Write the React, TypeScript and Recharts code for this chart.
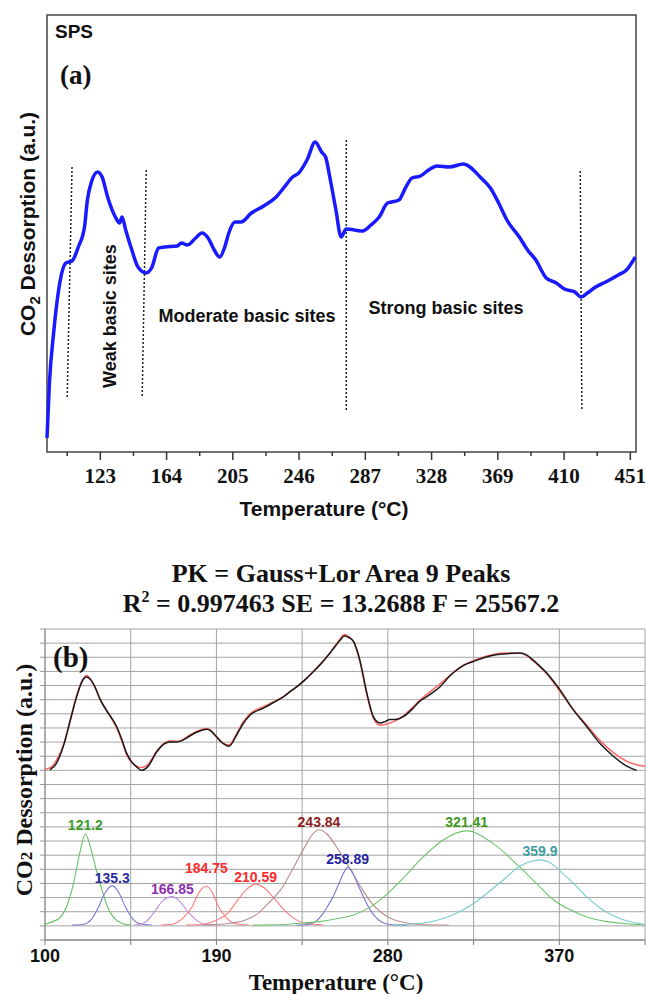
import React from 'react';
import { LineChart, Line, XAxis, YAxis, CartesianGrid, ReferenceLine, ReferenceArea } from 'recharts';

const SANS = "'Liberation Sans', Arial, sans-serif";
const SERIF = "'Liberation Serif', 'Times New Roman', serif";

type Pt = [number, number];

// ---- (a) raw CO2-TPD trace of SPS: [temperature °C, signal a.u.]
const spsTrace: Pt[] = [
  [90.0, 14], [91.5, 69], [94.1, 119], [97.9, 169], [101.7, 189], [105.5, 191], [109.4, 205],
  [113.2, 225], [115.0, 252], [117.5, 270], [121.3, 280], [124.1, 275], [127.7, 254], [132.3, 235],
  [134.9, 229], [136.4, 235], [138.7, 222], [142.5, 202], [146.3, 185], [151.4, 179], [154.7, 184],
  [159.1, 204], [162.9, 205], [170.6, 206], [173.1, 209], [177.0, 207], [182.0, 214], [185.9, 219],
  [189.7, 214], [193.5, 202], [196.9, 195], [200.0, 205], [202.5, 219], [206.3, 230], [210.1, 230],
  [216.5, 239], [224.1, 246], [231.8, 255], [236.9, 265], [242.0, 275], [245.8, 279], [250.9, 292],
  [256.0, 310], [259.9, 300], [262.4, 295], [265.0, 275], [268.8, 242], [272.0, 215], [275.2, 223],
  [280.3, 222], [285.4, 221], [290.5, 227], [295.6, 235], [300.7, 249], [303.2, 250], [307.8, 252],
  [312.1, 265], [315.9, 274], [321.1, 276], [326.2, 282], [331.3, 286], [338.9, 285], [347.8, 288],
  [351.7, 285], [358.0, 275], [364.4, 264], [369.5, 249], [374.6, 232], [382.3, 215], [387.4, 202],
  [392.5, 192], [398.9, 174], [405.2, 169], [410.3, 163], [416.7, 160], [420.5, 155], [424.4, 159],
  [429.5, 165], [435.8, 170], [443.5, 177], [448.6, 182], [454.0, 195],
];

const spsTicks = [123, 164, 205, 246, 287, 328, 369, 410, 451];
const spsMinorTicks = [102.5, 143.5, 184.5, 225.5, 266.5, 307.5, 348.5, 389.5, 430.5];

// region boundaries (dotted): top and bottom end of each line, [t, signal]
const siteBounds: [Pt, Pt][] = [
  [[105.5, 285], [102.5, 55]],
  [[151.4, 282], [148.9, 54]],
  [[275.2, 312], [275.2, 40]],
  [[420.0, 281], [421.0, 43]],
];

// ---- (b) deconvolution: measured trace, fitted envelope and the nine component peaks
const measured: Pt[] = [
  [102.6, 12.04], [106, 12.5], [109.6, 13.7], [113, 15.4], [116.6, 17.2], [119.5, 18.3], [121.9, 18.6],
  [124, 18.4], [126.2, 17.9], [129, 17.0], [132.4, 16.2], [135, 15.7], [137.6, 15.1], [140, 14.3],
  [142.9, 13.2], [145.5, 12.6], [148.1, 12.25], [150.7, 12.0], [154.2, 12.3], [158.6, 13.3], [163, 13.9],
  [166, 14.0], [169.1, 14.0], [172, 14.1], [174.4, 14.3], [180.5, 14.75], [184.9, 14.9], [187, 14.8],
  [189.2, 14.5], [193.6, 13.9], [196.6, 13.7], [200.6, 14.5], [204, 15.3], [207.6, 15.9], [214.6, 16.4],
  [220, 16.8], [225.1, 17.2], [229, 17.6], [233.9, 18.1], [238, 18.6], [242.6, 19.2], [246, 19.7],
  [249.6, 20.3], [252.5, 20.8], [254.9, 21.2], [257.2, 21.5], [259.5, 21.4], [262, 21.1], [265.3, 19.8],
  [268.9, 17.5], [272.4, 15.8], [275.9, 15.35], [278.5, 15.45], [281.1, 15.6], [284, 15.6], [288.1, 15.8],
  [293.3, 16.4], [296.8, 16.9], [300.3, 17.2], [304, 17.55], [307.3, 17.9], [312, 18.6], [316.1, 19.1],
  [320, 19.45], [324.8, 19.7], [330, 19.95], [335.3, 20.15], [342, 20.25], [349.3, 20.3], [353, 20.15],
  [356.3, 19.8], [363.3, 18.9], [370.3, 17.7], [377.3, 16.3], [384.4, 15.1], [391.4, 13.9], [398.4, 13.0],
  [405.4, 12.3], [410.6, 12.0],
];

const fitted: Pt[] = [
  [100, 12.08], [103, 12.2], [106, 12.7], [110, 13.9], [113, 15.4], [116.6, 17.3], [119.5, 18.35],
  [121.9, 18.7], [124, 18.45], [126.2, 17.9], [129, 17.0], [132.4, 16.25], [135, 15.65], [137.6, 15.0],
  [140, 14.2], [142.9, 13.1], [145.5, 12.55], [148.1, 12.3], [150.7, 12.2], [154.2, 12.45], [158.6, 13.35],
  [163, 13.95], [166, 14.1], [169.1, 14.05], [172, 14.15], [174.4, 14.35], [180.5, 14.8], [184.9, 14.95],
  [187, 14.85], [189.2, 14.5], [193.6, 13.9], [196.6, 13.8], [200.6, 14.6], [204, 15.4], [207.6, 16.0],
  [214.6, 16.5], [220, 16.85], [225.1, 17.2], [229, 17.6], [233.9, 18.1], [238, 18.6], [242.6, 19.25],
  [246, 19.75], [249.6, 20.3], [252.5, 20.85], [254.9, 21.3], [257.2, 21.6], [259.5, 21.45], [262, 21.1],
  [265.3, 19.7], [268.9, 17.4], [272.4, 15.7], [275.9, 15.2], [278.5, 15.25], [281.1, 15.35], [284, 15.5],
  [288.1, 15.85], [293.3, 16.5], [296.8, 16.95], [300.3, 17.35], [304, 17.75], [307.3, 18.1], [312, 18.65],
  [316.1, 19.1], [320, 19.45], [324.8, 19.75], [330, 20.0], [335.3, 20.2], [342, 20.3], [349.3, 20.3],
  [353, 20.1], [356.3, 19.75], [363.3, 18.85], [370.3, 17.6], [377.3, 16.3], [384.4, 15.2], [391.4, 14.1],
  [398.4, 13.25], [405.4, 12.65], [410.6, 12.4], [415, 12.3],
];

const peak121: Pt[] = [[100, 1.12], [104, 1.3], [108, 1.6], [112, 2.6], [115, 4.0], [118, 6.0], [121.2, 7.5], [124, 6.5], [127, 4.9], [130, 3.5], [133, 2.3], [136, 1.6], [140, 1.2], [145, 1.06]];
const peak135: Pt[] = [[114, 1.06], [120, 1.1], [124, 1.4], [128, 2.3], [131, 3.2], [135.3, 3.85], [139, 3.3], [142, 2.4], [146, 1.5], [150, 1.15], [156, 1.06]];
const peak166: Pt[] = [[147, 1.06], [152, 1.2], [157, 1.9], [162, 2.8], [166.85, 3.07], [171, 2.7], [175, 2.0], [180, 1.35], [184, 1.1], [189, 1.06]];
const peak184: Pt[] = [[161, 1.06], [166, 1.1], [172, 1.5], [177, 2.3], [181, 3.4], [184.75, 3.82], [188, 3.3], [191, 2.4], [195, 1.6], [200, 1.15], [207, 1.06]];
const peak210: Pt[] = [[174, 1.06], [182, 1.1], [190, 1.4], [196, 1.9], [201, 2.8], [206, 3.6], [210.59, 3.95], [215, 3.7], [220, 3.0], [225, 2.2], [230, 1.6], [236, 1.2], [246, 1.06]];
const peak243: Pt[] = [[183, 1.06], [195, 1.15], [205, 1.4], [212, 1.9], [218, 2.7], [224, 3.6], [230, 5.0], [236, 6.5], [240, 7.4], [243.84, 7.8], [248, 7.5], [253, 6.6], [258, 5.5], [262, 4.6], [266, 3.7], [271, 2.7], [276, 2.0], [282, 1.5], [290, 1.2], [300, 1.08], [312, 1.06]];
const peak258: Pt[] = [[232, 1.06], [238, 1.1], [242, 1.3], [245, 1.7], [248, 2.3], [251, 3.0], [254, 3.9], [257, 4.8], [258.89, 5.15], [261, 4.9], [264, 4.0], [267, 3.1], [270, 2.3], [273, 1.7], [277, 1.25], [282, 1.08], [290, 1.06]];
const peak321: Pt[] = [[209, 1.06], [225, 1.1], [235, 1.2], [244, 1.3], [253, 1.5], [262, 1.77], [271, 2.36], [280, 3.3], [288, 4.37], [297, 5.67], [309, 7.08], [321.41, 7.72], [335, 6.85], [349, 5.19], [358, 4.0], [367, 2.83], [376, 2.12], [384, 1.65], [395, 1.3], [405, 1.15], [415, 1.08]];
const peak359: Pt[] = [[283, 1.06], [297, 1.18], [306, 1.4], [314, 1.77], [323, 2.4], [332, 3.3], [341, 4.3], [349, 5.2], [355, 5.55], [359.9, 5.67], [366, 5.4], [371, 4.8], [376, 4.2], [384, 3.1], [393, 2.12], [402, 1.5], [415, 1.1]];

const fitTicks = [100, 145, 190, 235, 280, 325, 370, 415];
const fitTickLabels = [100, 190, 280, 370];
const fitYTicks = Array.from({ length: 23 }, (_, i) => i);

// line colour / label colour per component, plus how far the label sits above the apex
const peaks = [
  { pts: peak121, stroke: '#66c266', ink: '#3c9a2c', lift: 4 },
  { pts: peak135, stroke: '#7b7bd8', ink: '#2b2b9e', lift: 3 },
  { pts: peak166, stroke: '#c38ee0', ink: '#8e2fb0', lift: 3 },
  { pts: peak184, stroke: '#ff7b7b', ink: '#ff2a2a', lift: 13 },
  { pts: peak210, stroke: '#ff7b7b', ink: '#ff2a2a', lift: 2 },
  { pts: peak243, stroke: '#b98c8c', ink: '#8e1f1f', lift: 3 },
  { pts: peak258, stroke: '#7575d6', ink: '#1f1fa0', lift: 3 },
  { pts: peak321, stroke: '#6cc46c', ink: '#3c9a1c', lift: 4 },
  { pts: peak359, stroke: '#78cccc', ink: '#3f9e9e', lift: 4 },
];

const rows = (pts: Pt[]) => pts.map(([t, v]) => ({ t, v }));

const apexIndex = (pts: Pt[]) => pts.reduce((best, p, i) => (p[1] > pts[best][1] ? i : best), 0);

function SpsTick(props: any) {
  const { x, y, payload } = props;
  const major = spsTicks.includes(payload.value);
  return (
    <g>
      <line x1={x} x2={x} y1={y} y2={y + (major ? 8 : 4)} stroke="#333" strokeWidth={1.5} />
      {major && (
        <text x={x} y={y + 31} textAnchor="middle" fontFamily={SERIF} fontWeight="bold" fontSize={21} fill="#111">
          {payload.value}
        </text>
      )}
    </g>
  );
}

function FitTick(props: any) {
  const { x, y, payload } = props;
  return (
    <g>
      <line x1={x} x2={x} y1={y} y2={y + 5} stroke="#777" />
      {fitTickLabels.includes(payload.value) && (
        <text x={x} y={y + 22} textAnchor="middle" fontFamily={SANS} fontWeight="bold" fontSize={18} fill="#111">
          {payload.value}
        </text>
      )}
    </g>
  );
}

function SpsPanel() {
  return (
    <LineChart width={646} height={520} margin={{ top: 15, right: 10, left: 47, bottom: 0 }}>
      <XAxis
        type="number"
        dataKey="t"
        domain={[90, 454.5]}
        ticks={[...spsMinorTicks, ...spsTicks].sort((a, b) => a - b)}
        interval={0}
        height={68}
        axisLine={false}
        tickLine={false}
        tickSize={0}
        tickMargin={0}
        tick={<SpsTick />}
      />
      <YAxis type="number" domain={[0, 437]} hide />
      <ReferenceArea x1={90} x2={454.5} y1={0} y2={437} fill="none" fillOpacity={0} stroke="#444" strokeWidth={1.5} />
      {siteBounds.map(([top, bottom], i) => (
        <ReferenceLine
          key={i}
          segment={[{ x: top[0], y: top[1] }, { x: bottom[0], y: bottom[1] }]}
          stroke="#222"
          strokeWidth={1.5}
          strokeDasharray="2 2"
        />
      ))}
      <Line
        data={rows(spsTrace)}
        dataKey="v"
        type="monotone"
        stroke="#1a1aff"
        strokeWidth={3.5}
        strokeLinejoin="round"
        dot={false}
        isAnimationActive={false}
      />
      <text x={55} y={38} fontFamily={SANS} fontWeight="bold" fontSize={19} fill="#111">SPS</text>
      <text x={60} y={84} fontFamily={SERIF} fontWeight="bold" fontSize={27} fill="#111">(a)</text>
      <text x={35} y={224} transform="rotate(-90, 35, 224)" textAnchor="middle" fontFamily={SANS} fontWeight="bold" fontSize={21} fill="#111">
        <tspan>CO</tspan>
        <tspan dy={5} fontSize={15}>2</tspan>
        <tspan dy={-5}> Dessorption (a.u.)</tspan>
      </text>
      <text x={116} y={316} transform="rotate(-90, 116, 316)" textAnchor="middle" fontFamily={SANS} fontWeight="bold" fontSize={18} fill="#111">
        Weak basic sites
      </text>
      <text x={247} y={322} textAnchor="middle" fontFamily={SANS} fontWeight="bold" fontSize={18} fill="#111">
        Moderate basic sites
      </text>
      <text x={446} y={314} textAnchor="middle" fontFamily={SANS} fontWeight="bold" fontSize={18} fill="#111">
        Strong basic sites
      </text>
      <text x={324} y={516} textAnchor="middle" fontFamily={SANS} fontWeight="bold" fontSize={21} fill="#111">
        Temperature (°C)
      </text>
    </LineChart>
  );
}

function FitPanel() {
  return (
    <LineChart width={646} height={474} margin={{ top: 109, right: 1, left: 0, bottom: 0 }}>
      <CartesianGrid stroke="#a4a4a4" strokeWidth={1} />
      <XAxis
        type="number"
        dataKey="t"
        domain={[100, 415]}
        ticks={fitTicks}
        interval={0}
        height={54}
        axisLine={{ stroke: '#777' }}
        tickLine={false}
        tickSize={0}
        tickMargin={0}
        tick={<FitTick />}
      />
      <YAxis
        type="number"
        domain={[0, 22]}
        ticks={fitYTicks}
        interval={0}
        width={45}
        axisLine={{ stroke: '#888' }}
        tickLine={{ stroke: '#999' }}
        tickSize={5}
        tickFormatter={() => ''}
      />
      {peaks.map((pk, i) => {
        const top = apexIndex(pk.pts);
        return (
          <Line
            key={i}
            data={rows(pk.pts)}
            dataKey="v"
            type="monotone"
            stroke={pk.stroke}
            strokeWidth={1.1}
            dot={false}
            isAnimationActive={false}
            label={(p: any) =>
              p.index === top ? (
                <text x={p.x} y={p.y - pk.lift} textAnchor="middle" fontFamily={SANS} fontWeight="bold" fontSize={14} fill={pk.ink}>
                  {pk.pts[top][0]}
                </text>
              ) : (
                <g />
              )
            }
          />
        );
      })}
      <Line data={rows(fitted)} dataKey="v" type="monotone" stroke="#ff6a6a" strokeWidth={1.6} dot={false} isAnimationActive={false} />
      <Line data={rows(measured)} dataKey="v" type="monotone" stroke="#1a1a1a" strokeWidth={1.5} dot={false} isAnimationActive={false} />
      <text x={341} y={62} textAnchor="middle" fontFamily={SERIF} fontWeight="bold" fontSize={26} fill="#111">
        PK = Gauss+Lor Area 9 Peaks
      </text>
      <text x={341} y={92} textAnchor="middle" fontFamily={SERIF} fontWeight="bold" fontSize={26} fill="#111">
        <tspan>R</tspan>
        <tspan dy={-10} fontSize={16}>2</tspan>
        <tspan dy={10}> = 0.997463 SE = 13.2688 F = 25567.2</tspan>
      </text>
      <text x={53} y={147} fontFamily={SERIF} fontWeight="bold" fontSize={29} fill="#111">(b)</text>
      <text x={32} y={260} transform="rotate(-90, 32, 260)" textAnchor="middle" fontFamily={SERIF} fontWeight="bold" fontSize={24} fill="#111">
        <tspan>CO</tspan>
        <tspan fontSize={17}>2</tspan>
        <tspan> Dessorption (a.u.)</tspan>
      </text>
      <text x={336} y={470} textAnchor="middle" fontFamily={SERIF} fontWeight="bold" fontSize={23} fill="#111">
        Temperature (°C)
      </text>
    </LineChart>
  );
}

export default function App() {
  return (
    <div style={{ position: 'absolute', left: 0, top: 0, width: 646, height: 994, background: '#fff' }}>
      <div style={{ position: 'absolute', left: 0, top: 0 }}>
        <SpsPanel />
      </div>
      <div style={{ position: 'absolute', left: 0, top: 520 }}>
        <FitPanel />
      </div>
    </div>
  );
}
